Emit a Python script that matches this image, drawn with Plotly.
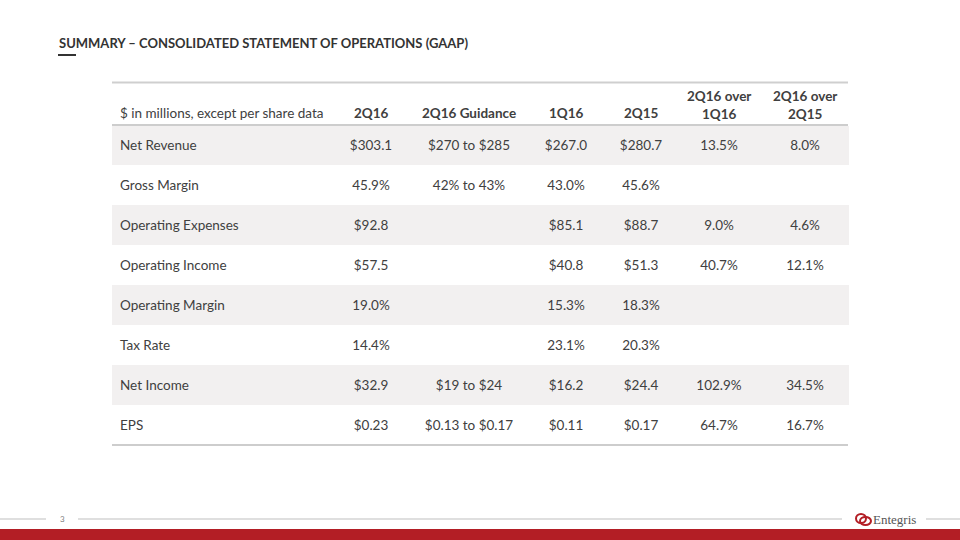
import plotly.graph_objects as go

title = "SUMMARY – CONSOLIDATED STATEMENT OF OPERATIONS (GAAP)"
header_labels = ["$ in millions, except per share data", "2Q16", "2Q16 Guidance", "1Q16", "2Q15",
                 "2Q16 over<br>1Q16", "2Q16 over<br>2Q15"]
row_labels = ["Net Revenue", "Gross Margin", "Operating Expenses", "Operating Income",
              "Operating Margin", "Tax Rate", "Net Income", "EPS"]
col_2q16 = ["$303.1", "45.9%", "$92.8", "$57.5", "19.0%", "14.4%", "$32.9", "$0.23"]
col_guidance = ["$270 to $285", "42% to 43%", "", "", "", "", "$19 to $24", "$0.13 to $0.17"]
col_1q16 = ["$267.0", "43.0%", "$85.1", "$40.8", "15.3%", "23.1%", "$16.2", "$0.11"]
col_2q15 = ["$280.7", "45.6%", "$88.7", "$51.3", "18.3%", "20.3%", "$24.4", "$0.17"]
col_over_1q16 = ["13.5%", "", "9.0%", "40.7%", "", "", "102.9%", "64.7%"]
col_over_2q15 = ["8.0%", "", "4.6%", "12.1%", "", "", "34.5%", "16.7%"]
page_number = "3"
logo_text = "Entegris"

W, H = 960, 540
def px(x): return x / W
def py(y): return 1 - y / H

SHADE = "#F2F0F0"
TXT = "#404040"
FONT = "Lato"
CLEAR = "rgba(0,0,0,0)"
row_fill = [SHADE if i % 2 == 0 else "white" for i in range(len(row_labels))]

columns = [row_labels, col_2q16, col_guidance, col_1q16, col_2q15, col_over_1q16, col_over_2q15]
col_widths = [218, 82, 114, 80, 70, 86, 86]
TABLE_X0, TABLE_X1 = 112, 848
TABLE_TOP, HEADER_H, ROW_H = 83, 42, 40
TEXT_SHIFT = 7  # plotly table text is top-aligned; shift text layer to centre it in rows
n = len(row_labels)

fig = go.Figure()
# background layer: banded row fills
fig.add_trace(go.Table(
    domain=dict(x=[px(TABLE_X0), px(TABLE_X1)], y=[py(TABLE_TOP + HEADER_H + ROW_H * n), py(TABLE_TOP)]),
    columnwidth=col_widths,
    header=dict(values=[""] * len(header_labels), height=HEADER_H,
                fill_color="white", line=dict(color="white", width=1)),
    cells=dict(values=[[""] * n] * len(columns), height=ROW_H,
               fill_color=[row_fill] * 7, line=dict(color=[row_fill] * 7, width=1)),
))
# text layer
fig.add_trace(go.Table(
    domain=dict(x=[px(TABLE_X0), px(TABLE_X1)],
                y=[py(TABLE_TOP + TEXT_SHIFT + HEADER_H + ROW_H * n), py(TABLE_TOP + TEXT_SHIFT)]),
    columnwidth=col_widths,
    header=dict(values=[""] * len(header_labels), height=HEADER_H,
                fill_color=CLEAR, line=dict(color=CLEAR, width=0)),
    cells=dict(values=columns, height=ROW_H,
               fill_color=CLEAR, line=dict(color=CLEAR, width=0),
               align=["left"] + ["center"] * 6,
               font=dict(family=FONT, size=13.5, color=TXT)),
))

# header labels placed over the table header cells
annotations = []
x_left = TABLE_X0
for i, (lab, w) in enumerate(zip(header_labels, col_widths)):
    two_line = "<br>" in lab
    if i == 0:
        annotations.append(dict(text=lab, x=px(x_left + 6), y=py(113), xref="paper", yref="paper",
                                xanchor="left", yanchor="middle", showarrow=False,
                                font=dict(family=FONT, size=13.5, color=TXT)))
    else:
        txt = "<br>".join(f"<b>{p}</b>" for p in lab.split("<br>"))
        annotations.append(dict(text=txt, x=px(x_left + w / 2), y=py(105 if two_line else 113),
                                xref="paper", yref="paper", xanchor="center", yanchor="middle",
                                align="center", showarrow=False,
                                font=dict(family=FONT, size=13.5, color=TXT)))
    x_left += w

shapes = [
    dict(type="line", xref="paper", yref="paper", x0=px(TABLE_X0), x1=px(TABLE_X1), y0=py(82.5), y1=py(82.5),
         line=dict(color="#CFCFCF", width=2)),
    dict(type="line", xref="paper", yref="paper", x0=px(TABLE_X0), x1=px(TABLE_X1), y0=py(125), y1=py(125),
         line=dict(color="#BDBDBD", width=1.5)),
    dict(type="line", xref="paper", yref="paper", x0=px(TABLE_X0), x1=px(TABLE_X1), y0=py(445), y1=py(445),
         line=dict(color="#BDBDBD", width=1.5)),
    # title dash
    dict(type="line", xref="paper", yref="paper", x0=px(58), x1=px(76), y0=py(55), y1=py(55),
         line=dict(color="#333333", width=2)),
    # footer lines
    dict(type="line", xref="paper", yref="paper", x0=0, x1=px(46), y0=py(519), y1=py(519),
         line=dict(color="#BFBFBF", width=1)),
    dict(type="line", xref="paper", yref="paper", x0=px(78), x1=px(842), y0=py(519), y1=py(519),
         line=dict(color="#BFBFBF", width=1)),
    dict(type="line", xref="paper", yref="paper", x0=px(926), x1=1, y0=py(519), y1=py(519),
         line=dict(color="#BFBFBF", width=1)),
    # red bar
    dict(type="rect", xref="paper", yref="paper", x0=0, x1=1, y0=0, y1=py(529),
         fillcolor="#B31E25", line=dict(width=0)),
    # logo swirl
    dict(type="circle", xref="paper", yref="paper", x0=px(856), x1=px(866), y0=py(523), y1=py(514),
         line=dict(color="#B31E25", width=2)),
    dict(type="circle", xref="paper", yref="paper", x0=px(860), x1=px(871), y0=py(525), y1=py(517),
         line=dict(color="#B31E25", width=2)),
]

annotations += [
    dict(text=f"<b>{title}</b>", x=px(57), y=py(43), xref="paper", yref="paper",
         xanchor="left", yanchor="middle", showarrow=False,
         font=dict(family=FONT, size=13, color="#333333")),
    dict(text=page_number, x=px(62), y=py(519), xref="paper", yref="paper",
         xanchor="center", yanchor="middle", showarrow=False,
         font=dict(family=FONT, size=8, color="#808080")),
    dict(text=logo_text, x=px(871), y=py(519), xref="paper", yref="paper",
         xanchor="left", yanchor="middle", showarrow=False,
         font=dict(family="Liberation Serif", size=13, color="#555555")),
]

fig.update_layout(width=W, height=H, margin=dict(l=0, r=0, t=0, b=0),
                  paper_bgcolor="white", plot_bgcolor="white",
                  shapes=shapes, annotations=annotations)
fig.write_html("out.html", config={"displayModeBar": False},
               post_script="document.body.style.margin='0';")
